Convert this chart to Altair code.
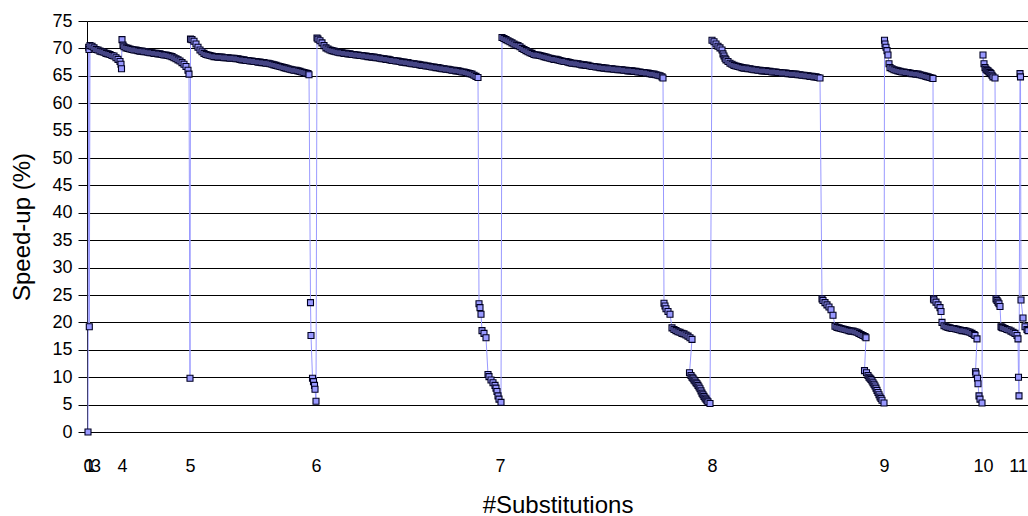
import altair as alt
import pandas as pd

# Each group = number of substitutions; idx = position of the point along the sequence
g0_idx = [1.0]
g0_val = [0.0]

g1_idx = [1.7, 2.0, 2.3]
g1_val = [70.2, 69.8, 19.2]

g3_idx = list(range(3, 34, 2)) + [34, 34.5]
g3_val = [70.5, 70.4, 70.1, 69.8, 69.7, 69.5, 69.4, 69.3, 69.1, 69.0, 68.9, 68.7, 68.6, 68.3,
          68.0, 67.6, 67.1, 66.3]

g4_idx = [35, 36] + list(range(37, 102, 2)) + [102, 103]
g4_val = [71.6, 70.6,
          70.3, 70.1, 70.0, 69.9, 69.8, 69.7, 69.7, 69.6, 69.5, 69.5, 69.4, 69.4, 69.3, 69.2,
          69.2, 69.1, 69.1, 69.0, 69.0, 68.9, 68.8, 68.8, 68.7, 68.6, 68.5, 68.3, 68.1, 67.9,
          67.7, 67.4, 67.1, 66.7, 66.0,
          65.3, 9.8]

g5_idx = ([103.5, 105, 107, 109, 111, 113, 115, 117, 119] + list(range(121, 222, 2))
          + [222, 223.5, 224, 225.5, 226.5, 227.5, 228, 229])
g5_val = [71.7, 71.6, 71.3, 70.8, 70.2, 69.7, 69.4, 69.1, 68.9,
          68.8, 68.7, 68.6, 68.5, 68.5, 68.4, 68.4, 68.4, 68.3, 68.3,
          68.3, 68.2, 68.2, 68.2, 68.1, 68.1, 68.0, 67.9, 67.9, 67.8,
          67.8, 67.7, 67.7, 67.6, 67.6, 67.5, 67.5, 67.4, 67.4, 67.3,
          67.3, 67.2, 67.1, 67.0, 66.9, 66.8, 66.7, 66.6, 66.5, 66.4,
          66.3, 66.2, 66.1, 66.0, 66.0, 65.9, 65.8, 65.7, 65.6, 65.5,
          65.4,
          65.2, 23.6, 17.6, 9.8, 9.2, 8.5, 7.8, 5.6]

g6_idx = ([230, 231, 233, 235, 237, 239, 241, 243, 245, 247, 249] + list(range(251, 390, 2))
          + [391, 392, 393, 394, 395, 397, 399, 401, 402, 404, 406, 408, 409, 410, 411, 412, 414])
g6_val = [71.9, 71.7, 71.4, 71.0, 70.5, 70.1, 69.9, 69.7, 69.6, 69.5, 69.4,
          69.3, 69.2, 69.2, 69.1, 69.1, 69.0, 69.0, 68.9, 68.9, 68.8,
          68.8, 68.7, 68.7, 68.6, 68.6, 68.5, 68.5, 68.4, 68.4, 68.3,
          68.3, 68.2, 68.1, 68.1, 68.0, 68.0, 67.9, 67.8, 67.8, 67.7,
          67.7, 67.6, 67.5, 67.5, 67.4, 67.4, 67.3, 67.2, 67.2, 67.1,
          67.1, 67.0, 66.9, 66.9, 66.8, 66.8, 66.7, 66.6, 66.6, 66.5,
          66.5, 66.4, 66.3, 66.3, 66.2, 66.2, 66.1, 66.0, 66.0, 65.9,
          65.9, 65.8, 65.7, 65.7, 65.6, 65.5, 65.4, 65.3, 65.1, 64.9,
          64.7, 23.4, 22.7, 21.5, 18.5, 18.0, 17.2, 10.5, 10.1, 9.5, 9.0, 8.5, 8.0, 7.4, 6.6,
          6.0, 5.4]

g7_idx = (list(range(415, 454, 2)) + list(range(455, 576, 2)) + [576]
          + [577, 578, 579, 581, 583, 585, 587, 589, 591, 593, 595, 597, 599, 601, 603, 605]
          + [602.5, 604, 605, 606, 607, 608, 609, 610, 611, 612, 613, 614, 615, 616, 617, 618,
             619, 620, 621, 623])
g7_val = [72.0, 71.8, 71.6, 71.4, 71.2, 71.0, 70.8, 70.6, 70.5, 70.3,
          70.0, 69.8, 69.6, 69.4, 69.2, 69.1, 68.9, 68.8, 68.8, 68.7,
          68.6, 68.5, 68.4, 68.3, 68.2, 68.1, 68.0, 68.0, 67.9, 67.8,
          67.7, 67.6, 67.6, 67.5, 67.4, 67.3, 67.3, 67.2, 67.2, 67.1,
          67.0, 67.0, 66.9, 66.9, 66.8, 66.7, 66.7, 66.6, 66.6, 66.5,
          66.5, 66.4, 66.4, 66.3, 66.3, 66.3, 66.2, 66.2, 66.1, 66.1,
          66.1, 66.0, 66.0, 65.9, 65.9, 65.9, 65.8, 65.8, 65.7, 65.7,
          65.6, 65.6, 65.5, 65.5, 65.4, 65.3, 65.3, 65.2, 65.1, 65.0,
          64.8, 64.6,
          23.5, 23.0, 22.5, 22.0, 21.5, 19.0, 18.7, 18.5, 18.3, 18.2, 18.0, 17.9, 17.7, 17.5,
          17.2, 16.9,
          10.8, 10.3, 10.0, 9.8, 9.5, 9.3, 9.0, 8.8, 8.5, 8.2, 7.9, 7.5, 7.1, 6.8, 6.5, 6.2,
          6.0, 5.7, 5.5, 5.2]

g8_idx = ([625, 627, 629, 631, 633, 635, 636, 637, 638, 639, 641, 643, 645, 647, 649, 651, 653,
           655, 657] + list(range(659, 732, 2)) + [733]
          + [735, 736, 738, 740, 742, 744, 746, 748, 750, 752, 754, 756, 758, 760, 762, 764, 766,
             768, 770, 772, 774, 776, 778, 779]
          + [777.5, 779.5, 781, 782, 783, 784, 785, 786, 787, 788, 789, 790, 791, 792, 793, 794,
             795, 797])
g8_val = [71.5, 71.2, 70.8, 70.4, 70.1, 69.7, 69.0, 68.6, 68.2, 67.9, 67.6, 67.3, 67.1, 66.9,
          66.8, 66.7, 66.6, 66.5, 66.4,
          66.4, 66.3, 66.3, 66.2, 66.1, 66.1, 66.0, 66.0, 65.9, 65.9,
          65.9, 65.8, 65.8, 65.7, 65.7, 65.7, 65.6, 65.6, 65.5, 65.5,
          65.5, 65.4, 65.4, 65.3, 65.3, 65.3, 65.2, 65.2, 65.1, 65.1,
          65.0, 65.0, 64.9, 64.9, 64.8, 64.8, 64.7,
          64.6,
          24.3, 24.0, 23.6, 23.2, 22.8, 22.3, 21.3, 19.3, 19.1, 19.0, 18.9, 18.8, 18.7, 18.6,
          18.5, 18.4, 18.4, 18.3, 18.2, 18.0, 17.8, 17.6, 17.4, 17.2,
          11.2, 10.8, 10.3, 10.0, 9.8, 9.6, 9.3, 9.0, 8.7, 8.4, 8.0, 7.6, 7.2, 6.8, 6.4, 6.1,
          5.8, 5.3]

g9_idx = ([797.5, 798, 799, 800, 801, 802, 803] + list(range(805, 846, 2)) + [846]
          + [846.5, 847, 849, 851, 853, 854, 855] + list(range(857, 888, 2)) + [888, 890]
          + [888.5, 889, 890.5, 891, 892, 893, 895])
g9_val = [71.5, 70.8, 70.2, 69.6, 68.8, 67.2, 66.5,
          66.3, 66.1, 66.0, 65.9, 65.8, 65.7, 65.7, 65.6, 65.6, 65.5, 65.4, 65.4, 65.3, 65.3,
          65.2, 65.1, 65.0, 64.9, 64.8, 64.7, 64.6,
          64.5,
          24.3, 24.1, 23.7, 23.2, 22.7, 22.0, 20.0,
          19.4, 19.2, 19.1, 19.0, 18.9, 18.9, 18.8, 18.7, 18.6, 18.5, 18.5, 18.4, 18.3, 18.2,
          18.0, 17.8,
          17.6, 17.0,
          11.0, 10.6, 9.8, 8.8, 6.6, 6.0, 5.3]

g10_idx = ([896, 897, 898, 899, 900, 901, 902, 903, 904, 905, 906, 908]
           + [909, 910, 911, 912, 913, 914, 915, 916, 918, 920, 922, 924, 926, 928, 930, 931]
           + [931.5, 932])
g10_val = [68.8, 67.2, 66.5, 66.2, 66.0, 65.9, 65.7, 65.6, 65.4, 65.1, 64.8, 64.6,
           24.3, 24.0, 23.7, 23.4, 22.9, 19.2, 19.1, 19.0, 18.9, 18.7, 18.6, 18.4, 18.2, 18.0,
           17.6, 17.0,
           10.0, 6.6]

g11_idx = [933, 933.5, 934, 936, 938, 940, 941]
g11_val = [65.4, 64.8, 24.1, 20.8, 19.2, 18.7, 18.5]

tick_pos = [1.0, 2.0, 8.5, 35, 103, 229, 413, 625, 797, 896, 931]
tick_lab = ["0", "1", "3", "4", "5", "6", "7", "8", "9", "10", "11"]
y_ticks = [0, 5, 10, 15, 20, 25, 30, 35, 40, 45, 50, 55, 60, 65, 70, 75]

groups = [(g0_idx, g0_val), (g1_idx, g1_val), (g3_idx, g3_val), (g4_idx, g4_val),
          (g5_idx, g5_val), (g6_idx, g6_val), (g7_idx, g7_val), (g8_idx, g8_val),
          (g9_idx, g9_val), (g10_idx, g10_val), (g11_idx, g11_val)]
rows = []
for gi, gv in groups:
    n = min(len(gi), len(gv))
    for a, b in zip(gi[:n], gv[:n]):
        rows.append({"idx": a, "val": b, "seq": len(rows)})
df = pd.DataFrame(rows)

expr = "''"
for p, l in reversed(list(zip(tick_pos, tick_lab))):
    expr = f"datum.value == {p} ? '{l}' : ({expr})"

FONT = "Liberation Sans"

x = alt.X("idx:Q",
          scale=alt.Scale(domain=[0, 941], nice=False, zero=False),
          axis=alt.Axis(values=tick_pos, labelExpr=expr, grid=False, domain=False, ticks=False,
                        labelPadding=39, labelBaseline="alphabetic", labelFontSize=18,
                        labelFont=FONT, labelColor="black", labelOverlap=False, labelFlush=False,
                        title="#Substitutions", titleFont=FONT, titleFontSize=24,
                        titleFontWeight="normal", titleColor="black", titleBaseline="alphabetic",
                        titleX=470.5, titleY=80))
y = alt.Y("val:Q",
          scale=alt.Scale(domain=[0, 75], nice=False, zero=True),
          axis=alt.Axis(values=y_ticks, grid=True, gridColor="black", gridWidth=1, gridOpacity=1,
                        domain=True, domainColor="black", domainWidth=1, ticks=True,
                        tickColor="black", tickSize=9, tickWidth=1, labelPadding=6,
                        labelFontSize=18, labelFont=FONT, labelColor="black",
                        title="Speed-up (%)", titleFont=FONT, titleFontSize=24,
                        titleFontWeight="normal", titleColor="black", titleAngle=-90,
                        titleBaseline="alphabetic", titleX=-58, titleY=205.5))

line = alt.Chart(df).mark_line(color="#9999ff", strokeWidth=1).encode(x=x, y=y, order="seq:Q")
pts = alt.Chart(df).mark_square(size=36, color="#9999ff", stroke="#000022", strokeWidth=1.1,
                                opacity=1, fillOpacity=1).encode(x=x, y=y)

chart = alt.layer(line, pts).properties(
    width=941, height=411,
    autosize=alt.AutoSizeParams(type="none"),
    padding={"left": 87, "top": 21, "right": 0, "bottom": 84},
    background="white",
).configure_view(stroke=None)

chart.save("out.html", embed_options={"renderer": "svg", "actions": False})
